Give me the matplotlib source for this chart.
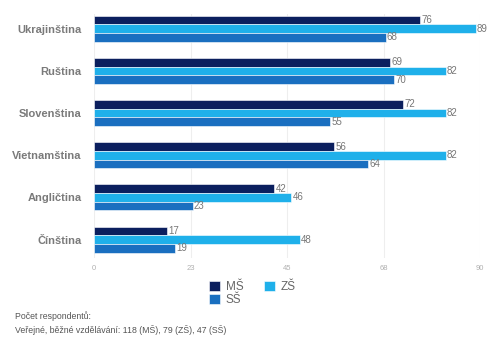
import matplotlib.pyplot as plt
import numpy as np

plt.rcParams['font.family'] = ['Liberation Sans', 'DejaVu Sans']

categories = ['Ukrajinština', 'Ruština', 'Slovenština', 'Vietnamština', 'Angličtina', 'Čínština']
ms_values = [76, 69, 72, 56, 42, 17]
zs_values = [89, 82, 82, 82, 46, 48]
ss_values = [68, 70, 55, 64, 23, 19]
series_names = ['MŠ', 'ZŠ', 'SŠ']
tick_values = [0, 22.5, 45, 67.5, 90]
tick_labels = ['0', '23', '45', '68', '90']

colors = ['#0b1f5e', '#1fb0ea', '#1a6fc0']

fig = plt.figure(figsize=(5, 3.47), dpi=100)
ax = fig.add_axes([0.188, 0.257, 0.772, 0.703])

y = np.arange(len(categories))
h = 0.205
bars = []
for k, (vals, name, c) in enumerate(zip([ms_values, zs_values, ss_values], series_names, colors)):
    pos = y + (k - 1) * h
    b = ax.barh(pos, vals, height=h, color=c, edgecolor='white', linewidth=0.4, label=name, zorder=3)
    bars.append(b)
    for p, v in zip(pos, vals):
        ax.text(v + 0.3, p, str(v), va='center', ha='left', fontsize=7, color='#777777', zorder=4)

ax.set_xlim(0, 90)
ax.set_ylim(5.43, -0.35)
ax.set_yticks(y)
ax.set_yticklabels(categories, fontsize=8, fontweight='bold', color='#7a7a7a')
ax.set_xticks(tick_values)
ax.set_xticklabels(tick_labels, fontsize=5.5, color='#b0b0b0')
ax.tick_params(axis='both', length=0)
ax.tick_params(axis='y', pad=9)
ax.tick_params(axis='x', pad=5)
ax.grid(axis='x', color='#eeeeee', linewidth=0.8, zorder=0)
for s in ax.spines.values():
    s.set_visible(False)

# column-major fill: MŠ, SŠ in first column, ZŠ in second
leg = fig.legend(handles=[bars[0], bars[2], bars[1]], labels=['MŠ', 'SŠ', 'ZŠ'], ncol=2,
                 loc='upper center', bbox_to_anchor=(0.505, 0.208), frameon=False,
                 fontsize=8.5, handlelength=0.9, handleheight=0.9, handletextpad=0.5,
                 columnspacing=1.8, labelspacing=0.1, borderpad=0)
for t in leg.get_texts():
    t.set_color('#666666')

fig.text(0.03, 0.035, 'Počet respondentů:\nVeřejné, běžné vzdělávání: 118 (MŠ), 79 (ZŠ), 47 (SŠ)',
         fontsize=6.3, color='#555555', va='bottom', ha='left', linespacing=1.45)

fig.savefig('out.png', dpi=100)
